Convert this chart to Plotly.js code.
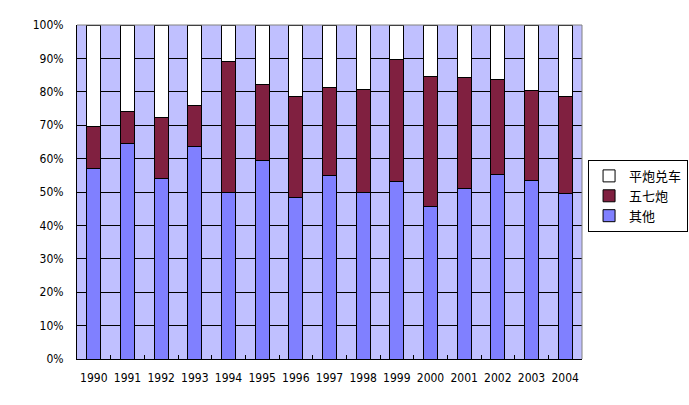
<!DOCTYPE html>
<html>
<head>
<meta charset="utf-8">
<script src="https://cdn.plot.ly/plotly-3.0.1.min.js"></script>
<style>html,body{margin:0;padding:0;background:#fff;}#chart{width:689px;height:405px;}</style>
</head>
<body>
<div id="chart"></div>
<script>
const years = ['1990','1991','1992','1993','1994','1995','1996','1997','1998','1999','2000','2001','2002','2003','2004'];
const qita = [57.1, 64.6, 54.1, 63.7, 49.9, 59.5, 48.4, 55.0, 49.9, 53.2, 45.7, 51.1, 55.3, 53.5, 49.6];
const wuqipao = [12.6, 9.6, 18.3, 12.3, 39.2, 22.7, 30.3, 26.3, 30.8, 36.5, 38.9, 33.2, 28.4, 26.9, 29.1];
const pingpao = [30.3, 25.8, 27.6, 24.0, 10.9, 17.8, 21.3, 18.7, 19.3, 10.3, 15.4, 15.7, 16.3, 19.6, 21.3];
const seriesNames = ['其他', '五七炮', '平炮兑车'];
const colors = ['#8080FF', '#802040', '#FFFFFF'];

const data = [qita, wuqipao, pingpao].map((vals, i) => ({
  type: 'bar',
  x: years,
  y: vals,
  name: seriesNames[i],
  marker: {color: colors[i], line: {color: '#000000', width: 1}},
  hoverinfo: 'skip'
}));

const font = {family: '"Liberation Sans Narrow", "DejaVu Sans Condensed", "Liberation Sans", sans-serif', size: 12, color: '#000'};

const layout = {
  width: 689, height: 405,
  margin: {l: 77, r: 107, t: 25, b: 46, pad: 0, autoexpand: false},
  paper_bgcolor: '#FFFFFF',
  plot_bgcolor: '#C0C0FF',
  barmode: 'stack',
  bargap: 0.58,
  font: font,
  showlegend: true,
  legend: {
    x: 1.012, y: 0.596, xanchor: 'left', yanchor: 'top',
    traceorder: 'reversed',
    bordercolor: '#000', borderwidth: 1, bgcolor: '#FFFFFF',
    font: {family: '"Noto Sans CJK SC", sans-serif', size: 13, color: '#000'},
    itemwidth: 30, tracegroupgap: 0
  },
  xaxis: {
    type: 'category',
    tickson: 'boundaries',
    ticks: 'inside', ticklen: 4, tickcolor: '#000',
    tickangle: 0,
    ticklabelstandoff: 8,
    showgrid: false,
    showline: true, linecolor: '#000', linewidth: 1,
    mirror: false,
    tickfont: font,
    fixedrange: true
  },
  yaxis: {
    range: [0, 100],
    dtick: 10,
    ticksuffix: '%',
    showgrid: true, gridcolor: '#000', gridwidth: 1,
    showline: true, linecolor: '#000', linewidth: 1,
    ticks: 'outside', ticklen: 10, tickcolor: 'rgba(0,0,0,0)',
    tickfont: font,
    zeroline: false,
    fixedrange: true
  },
  shapes: [
    {type: 'line', xref: 'paper', yref: 'paper', x0: 0, x1: 1, y0: 1, y1: 1, line: {color: '#808080', width: 1}},
    {type: 'line', xref: 'paper', yref: 'paper', x0: 1, x1: 1, y0: 0, y1: 1, line: {color: '#808080', width: 1}}
  ]
};

Plotly.newPlot('chart', data, layout, {staticPlot: true, displayModeBar: false});
</script>
</body>
</html>
